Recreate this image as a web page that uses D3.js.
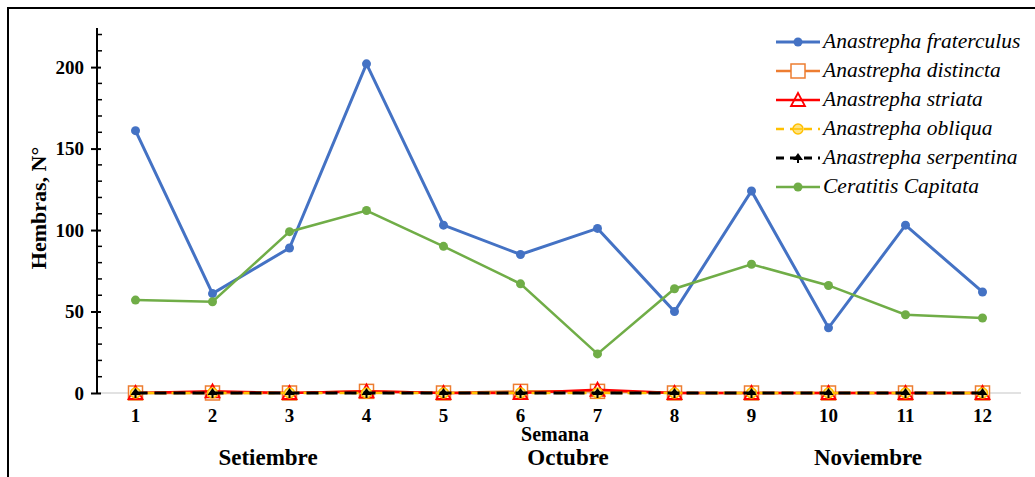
<!DOCTYPE html>
<html>
<head>
<meta charset="utf-8">
<script src="https://cdn.jsdelivr.net/npm/d3@7"></script>
<style>
  body { margin: 0; background: #fff; }
  text { font-family: "Liberation Serif", "Times New Roman", serif; }
</style>
</head>
<body>
<div id="chart-area"></div>
<script>
// data
var semanas = ["1", "2", "3", "4", "5", "6", "7", "8", "9", "10", "11", "12"];
var meses = ["Setiembre", "Octubre", "Noviembre"];
var fraterculus = [161, 61, 89, 202, 103, 85, 101, 50, 124, 40, 103, 62];
var distincta = [0, 0, 0, 1, 0, 1, 1, 0, 0, 0, 0, 0];
var striata = [0, 1, 0, 1, 0, 0, 2, 0, 0, 0, 0, 0];
var obliqua = [0, 0, 0, 0, 0, 0, 0, 0, 0, 0, 0, 0];
var serpentina = [0, 0, 0, 0, 0, 0, 0, 0, 0, 0, 0, 0];
var capitata = [57, 56, 99, 112, 90, 67, 24, 64, 79, 66, 48, 46];
var yTicks = [0, 50, 100, 150, 200];

var series = [
    { name: "Anastrepha fraterculus", values: fraterculus, color: "#4472c4", width: 3, dash: null, marker: "dot" },
    { name: "Anastrepha distincta", values: distincta, color: "#ed7d31", width: 2.5, dash: null, marker: "square" },
    { name: "Anastrepha striata", values: striata, color: "#ff0000", width: 2.5, dash: null, marker: "triangle" },
    { name: "Anastrepha obliqua", values: obliqua, color: "#ffc000", width: 2.5, dash: "7,5", marker: "circle" },
    { name: "Anastrepha serpentina", values: serpentina, color: "#000000", width: 3, dash: "12,7", marker: "spade" },
    { name: "Ceratitis Capitata", values: capitata, color: "#70ad47", width: 2.5, dash: null, marker: "dot" }
];

var svg = d3.select("#chart-area").append("svg")
    .attr("width", 1035)
    .attr("height", 477);

// frame
svg.append("path")
    .attr("d", "M8,477 L8,8 L1035,8")
    .attr("fill", "none")
    .attr("stroke", "#000")
    .attr("stroke-width", 2);

var x = d3.scalePoint()
    .domain(semanas)
    .range([97, 1021])
    .padding(0.5);

var y = d3.scaleLinear()
    .domain([0, 224])
    .range([393, 28]);

// x axis line
svg.append("line")
    .attr("x1", 97).attr("x2", 1021)
    .attr("y1", y(0)).attr("y2", y(0))
    .attr("stroke", "#d9d9d9")
    .attr("stroke-width", 1.5);

svg.selectAll(".xlab")
    .data(semanas)
    .enter()
    .append("text")
    .attr("class", "xlab")
    .attr("x", d => x(d))
    .attr("y", 422)
    .attr("text-anchor", "middle")
    .attr("font-weight", "bold")
    .attr("font-size", 19)
    .text(d => d);

// y axis: major ticks crossing, minor ticks inside
var yAxis = d3.axisLeft(y).tickValues(yTicks).tickSize(6).tickPadding(7);
var gy = svg.append("g")
    .attr("transform", "translate(97,0)")
    .call(yAxis);
gy.select(".domain").attr("stroke-width", 2).attr("d", "M0," + y(224) + "V" + y(0));
gy.selectAll(".tick line").attr("x2", -6).attr("x1", 4).attr("stroke-width", 2);
gy.selectAll(".tick text")
    .attr("font-family", "Liberation Serif, serif")
    .attr("font-weight", "bold")
    .attr("font-size", 19)
    .attr("fill", "#000");

var minor = d3.range(0, 221, 10).filter(v => v % 50 !== 0);
svg.selectAll(".minor")
    .data(minor)
    .enter()
    .append("line")
    .attr("x1", 97).attr("x2", 102)
    .attr("y1", d => y(d)).attr("y2", d => y(d))
    .attr("stroke", "#000")
    .attr("stroke-width", 1.5);

// axis titles
svg.append("text")
    .attr("transform", "translate(46,208) rotate(-90)")
    .attr("text-anchor", "middle")
    .attr("font-weight", "bold")
    .attr("font-size", 22)
    .text("Hembras, N°");

svg.append("text")
    .attr("x", 555).attr("y", 441)
    .attr("text-anchor", "middle")
    .attr("font-weight", "bold")
    .attr("font-size", 20)
    .text("Semana");

var mesX = d3.scalePoint().domain(meses).range([268, 868]);
svg.selectAll(".mes")
    .data(meses)
    .enter()
    .append("text")
    .attr("x", d => mesX(d))
    .attr("y", 465)
    .attr("text-anchor", "middle")
    .attr("font-weight", "bold")
    .attr("font-size", 23)
    .text(d => d);

function drawMarker(g, s, cx, cy) {
    if (s.marker === "dot") {
        g.append("circle").attr("cx", cx).attr("cy", cy).attr("r", 4.5).attr("fill", s.color);
    } else if (s.marker === "square") {
        g.append("rect").attr("x", cx - 7).attr("y", cy - 7).attr("width", 14).attr("height", 14)
            .attr("fill", "#fff").attr("stroke", s.color).attr("stroke-width", 1.5);
    } else if (s.marker === "triangle") {
        g.append("path").attr("d", `M${cx},${cy - 7}L${cx + 7},${cy + 6}L${cx - 7},${cy + 6}Z`)
            .attr("fill", "none").attr("stroke", s.color).attr("stroke-width", 1.8);
    } else if (s.marker === "circle") {
        g.append("circle").attr("cx", cx).attr("cy", cy).attr("r", 5)
            .attr("fill", "#ffe380").attr("stroke", s.color).attr("stroke-width", 1.5);
        g.append("line").attr("x1", cx - 4).attr("x2", cx + 4).attr("y1", cy).attr("y2", cy)
            .attr("stroke", s.color).attr("stroke-width", 1.5);
    } else if (s.marker === "spade") {
        g.append("path").attr("d", `M${cx},${cy - 5}L${cx + 5},${cy + 2}L${cx - 5},${cy + 2}Z`).attr("fill", "#000");
        g.append("rect").attr("x", cx - 1).attr("y", cy + 1).attr("width", 2).attr("height", 4).attr("fill", "#000");
    }
}

var line = d3.line()
    .x((d, i) => x(semanas[i]))
    .y(d => y(d));

series.forEach(s => {
    var g = svg.append("g");
    g.append("path")
        .attr("d", line(s.values))
        .attr("fill", "none")
        .attr("stroke", s.color)
        .attr("stroke-width", s.width)
        .attr("stroke-dasharray", s.dash);
    s.values.forEach((v, i) => drawMarker(g, s, x(semanas[i]), y(v)));
});

// legend
var legend = svg.append("g");
series.forEach((s, i) => {
    var ly = 42 + i * 29;
    var g = legend.append("g");
    g.append("line")
        .attr("x1", 776).attr("x2", 820)
        .attr("y1", ly).attr("y2", ly)
        .attr("stroke", s.color)
        .attr("stroke-width", s.width)
        .attr("stroke-dasharray", s.dash ? "8,6" : null);
    drawMarker(g, s, 798, ly);
    g.append("text")
        .attr("x", 823).attr("y", ly + 6)
        .attr("font-style", "italic")
        .attr("font-size", 21.5)
        .text(s.name);
});
</script>
</body>
</html>
